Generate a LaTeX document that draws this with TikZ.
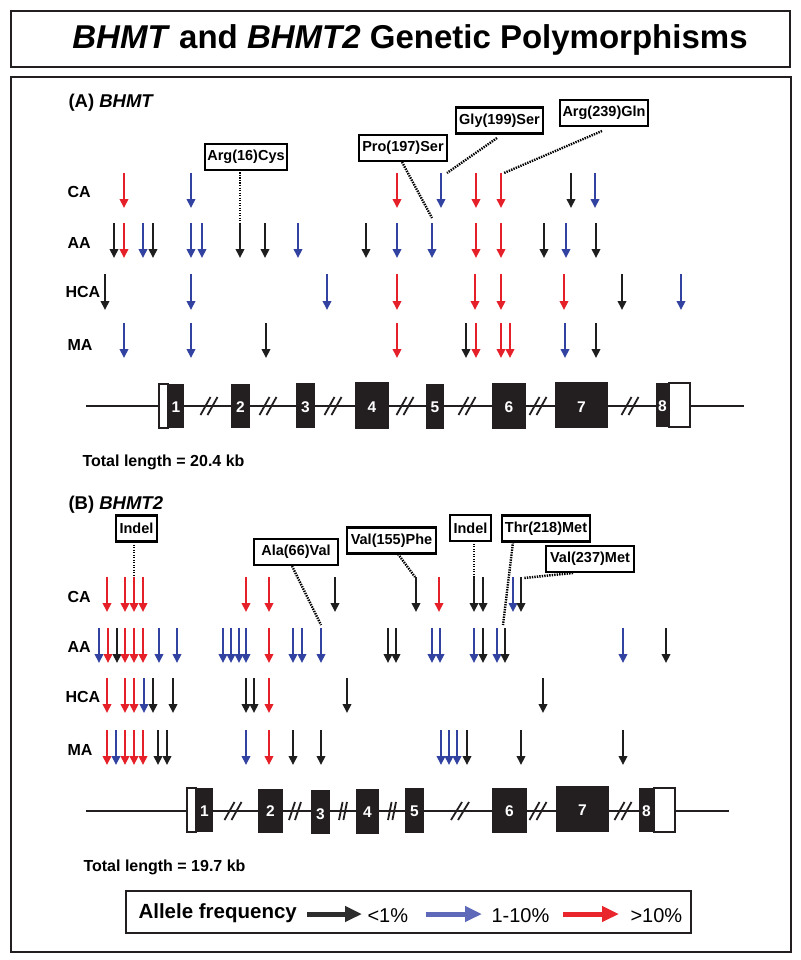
\documentclass[tikz,border=0pt]{standalone}
\usepackage{fontspec}
\setmainfont{Liberation Sans}
\usetikzlibrary{arrows.meta}
\definecolor{R}{RGB}{230,32,40}
\definecolor{B}{RGB}{50,66,160}
\definecolor{K}{RGB}{30,30,30}
\definecolor{exonc}{RGB}{35,31,32}
\definecolor{lgblue}{RGB}{95,105,185}
\definecolor{lgred}{RGB}{232,38,44}
\definecolor{lgblack}{RGB}{45,45,45}
\newcommand\snprow[3]{\foreach \c/\x in {#3}{\draw[snp,color=\c] (\x,#1) -- (\x,#2);}}
\newcommand\gslash[4]{% x, y, half width, offset
  \draw[slashl] ({#1-#4-#3},#2+9) -- ({#1-#4+#3},#2-9);
  \draw[slashl] ({#1+#4-#3},#2+9) -- ({#1+#4+#3},#2-9);}
\begin{document}
\begin{tikzpicture}[x=1pt,y=-1pt,
  snp/.style={line width=2pt,-{Triangle[length=9pt,width=8.5pt]}},
  lbl/.style={draw, line width=2.2pt, fill=white, font=\bfseries\fontsize{14.5}{14.5}\selectfont,
    minimum height=26pt, inner sep=0pt, minimum width=#1},
  dotl/.style={line width=2.4pt, dash pattern=on 1.4pt off 1.1pt},
  rowlab/.style={anchor=west, font=\bfseries\fontsize{16}{16}\selectfont},
  head/.style={anchor=west, font=\bfseries\fontsize{18.5}{18.5}\selectfont},
  tlen/.style={anchor=west, font=\bfseries\fontsize{16}{16}\selectfont},
  exon/.style={fill=exonc},
  utr/.style={draw=exonc, fill=white, line width=1.6pt},
  enum/.style={text=white, font=\bfseries\fontsize{15.5}{15.5}\selectfont},
  gline/.style={line width=2pt, color=exonc},
  slashl/.style={line width=1.8pt, color=exonc},
  frame/.style={line width=2.5pt, color=exonc},
  legarr/.style={line width=5pt, -{Triangle[length=17pt,width=15pt]}},
  legtxt/.style={anchor=west, font=\fontsize{20}{20}\selectfont}
]
\useasboundingbox (0,0) rectangle (800,960);
\fill[white] (0,0) rectangle (800,960);

% frames
\draw[frame] (11,11) rectangle (790,67);
\node[font=\bfseries\fontsize{33}{33}\selectfont] (title) at (410,40)
  {\textit{BHMT} and \textit{BHMT2} Genetic Polymorphisms};
\draw[frame] (11,77) rectangle (791,952);

% ================= Panel A =================
\node[head] (headA) at (65,103) {(A) \textit{BHMT}};
\node[rowlab] (caA) at (64,192) {CA};
\node[rowlab] (aaA) at (64,243) {AA};
\node[rowlab] (hcaA) at (62,292) {HCA};
\node[rowlab] (maA) at (64,345) {MA};

\snprow{173}{208}{R/124,B/191,R/397,B/441,R/476,R/501,K/571,B/595}
\snprow{223}{258}{K/114,R/124,B/143,K/153,B/191,B/202,K/240,K/265,B/298,K/366,B/397,B/432,R/476,R/501,K/544,B/566,K/596}
\snprow{274}{310}{K/105,B/191,B/327,R/397,R/475,R/501,R/564,K/622,B/681}
\snprow{323}{358}{B/124,B/191,K/266,R/397,K/466,R/476,R/501,R/510,B/565,K/596}

\node[lbl=82] (a16) at (246,157) {Arg(16)Cys};
\node[lbl=88] (p197) at (403,148) {Pro(197)Ser};
\node[lbl=87] (g199) at (499.5,120.5) {Gly(199)Ser};
\node[lbl=88] (a239) at (604,113) {Arg(239)Gln};
\coordinate (a16s) at (240,170);  \coordinate (a16e) at (240,223);
\coordinate (p197s) at (402,162); \coordinate (p197e) at (432,218);
\coordinate (g199s) at (497,138); \coordinate (g199e) at (447,173);
\coordinate (a239s) at (602,131); \coordinate (a239e) at (504,173);
\draw[dotl] (a16s) -- (a16e);
\draw[dotl] (p197s) -- (p197e);
\draw[dotl] (g199s) -- (g199e);
\draw[dotl] (a239s) -- (a239e);

% gene A
\draw[gline] (86,406) -- (744,406);
\foreach \x in {209,268,333,405,467,538,630}{\gslash{\x}{406}{5}{3.5}}
\draw[utr] (159,384) rectangle (168,428);
\fill[exon] (168,384) rectangle (184,428);
\fill[exon] (231,384) rectangle (250,428);
\fill[exon] (296,383) rectangle (315,428);
\fill[exon] (355,382) rectangle (389,429);
\fill[exon] (426,384) rectangle (444,429);
\fill[exon] (492,383) rectangle (526,429);
\fill[exon] (555,382) rectangle (608,428);
\fill[exon] (656,383) rectangle (669,427);
\draw[utr] (669,383) rectangle (690,427);
\node[enum] (eA1) at (176,407) {1};
\node[enum] (eA2) at (240.5,407) {2};
\node[enum] (eA3) at (305.5,407) {3};
\node[enum] (eA4) at (372,407) {4};
\node[enum] (eA5) at (435,407) {5};
\node[enum] (eA6) at (509,407) {6};
\node[enum] (eA7) at (581.5,407) {7};
\node[enum] (eA8) at (662.5,406) {8};
\node[tlen] (tlA) at (79,462) {Total length = 20.4 kb};

% ================= Panel B =================
\node[head] (headB) at (65,505) {(B) \textit{BHMT2}};
\node[rowlab] (caB) at (64,597) {CA};
\node[rowlab] (aaB) at (64,647) {AA};
\node[rowlab] (hcaB) at (62,697) {HCA};
\node[rowlab] (maB) at (64,750) {MA};

\snprow{577}{612}{R/107,R/125,R/134,R/143,R/246,R/269,K/335,K/416,R/439,K/474,K/483,B/513,K/521}
\snprow{628}{663}{B/99,R/108,K/117,R/125,R/134,R/143,B/159,B/177,B/223,B/231,B/239,B/246,R/269,B/293,B/302,B/321,K/388,K/396,B/432,B/440,B/474,K/483,B/497,K/505,B/623,K/666}
\snprow{678}{713}{R/107,R/125,R/134,B/144,K/153,K/173,K/246,K/254,R/269,K/347,K/543}
\snprow{730}{765}{R/107,B/116,R/125,R/134,R/143,K/158,K/167,B/246,R/269,K/293,K/321,B/441,B/449,B/457,K/467,K/521,K/623}

\node[lbl=41] (ind1) at (136.5,528.5) {Indel};
\node[lbl=84] (a66) at (296,552) {Ala(66)Val};
\node[lbl=89] (v155) at (391.5,540.5) {Val(155)Phe};
\node[lbl=41] (ind2) at (470.5,528) {Indel};
\node[lbl=88] (t218) at (546,528.5) {Thr(218)Met};
\node[lbl=88] (v237) at (590,559) {Val(237)Met};
\coordinate (ind1s) at (134,542); \coordinate (ind1e) at (134,577);
\coordinate (a66s) at (292,566);  \coordinate (a66e) at (321,625);
\coordinate (v155s) at (398,554); \coordinate (v155e) at (415,577);
\coordinate (ind2s) at (474,541); \coordinate (ind2e) at (474,577);
\coordinate (t218s) at (513,542); \coordinate (t218e) at (503,625);
\coordinate (v237s) at (573,573); \coordinate (v237e) at (524,578);
\draw[dotl] (ind1s) -- (ind1e);
\draw[dotl] (a66s) -- (a66e);
\draw[dotl] (v155s) -- (v155e);
\draw[dotl] (ind2s) -- (ind2e);
\draw[dotl] (t218s) -- (t218e);
\draw[dotl] (v237s) -- (v237e);

% gene B
\draw[gline] (86,811) -- (729,811);
\gslash{233}{811}{5}{3.5}
\gslash{295}{811}{3}{3}
\gslash{343}{811}{1.8}{2.2}
\gslash{392}{811}{1.8}{2.2}
\gslash{460}{811}{5.5}{3.5}
\gslash{538}{811}{5}{3.5}
\gslash{623}{811}{5}{3.5}
\draw[utr] (187,788) rectangle (196,832);
\fill[exon] (196,788) rectangle (213,832);
\fill[exon] (258,789) rectangle (283,833);
\fill[exon] (311,790) rectangle (330,834);
\fill[exon] (356,789) rectangle (379,834);
\fill[exon] (405,788) rectangle (424,833);
\fill[exon] (492,788) rectangle (527,833);
\fill[exon] (556,786) rectangle (609,832);
\fill[exon] (639,788) rectangle (654,832);
\draw[utr] (654,788) rectangle (675,832);
\node[enum] (eB1) at (204.5,811) {1};
\node[enum] (eB2) at (270.5,811) {2};
\node[enum] (eB3) at (320.5,814) {3};
\node[enum] (eB4) at (367.5,812) {4};
\node[enum] (eB5) at (414.5,811) {5};
\node[enum] (eB6) at (509.5,811) {6};
\node[enum] (eB7) at (582.5,810) {7};
\node[enum] (eB8) at (646.5,811) {8};
\node[tlen] (tlB) at (80,867) {Total length = 19.7 kb};

% ================= Legend =================
\draw[frame] (126,891) rectangle (691,933);
\node[anchor=west, font=\bfseries\fontsize{20.5}{20.5}\selectfont] (legt) at (135,913) {Allele frequency};
\coordinate (lk1) at (307,914); \coordinate (lk2) at (362,914);
\coordinate (lb1) at (426,914); \coordinate (lb2) at (482,914);
\coordinate (lr1) at (563,914); \coordinate (lr2) at (619,914);
\draw[legarr, color=lgblack] (lk1) -- (lk2);
\draw[legarr, color=lgblue] (lb1) -- (lb2);
\draw[legarr, color=lgred] (lr1) -- (lr2);
\node[legtxt] (l1) at (364,916) {<1\%};
\node[legtxt] (l2) at (488,916) {1-10\%};
\node[legtxt] (l3) at (627,916) {>10\%};
\end{tikzpicture}
\end{document}
